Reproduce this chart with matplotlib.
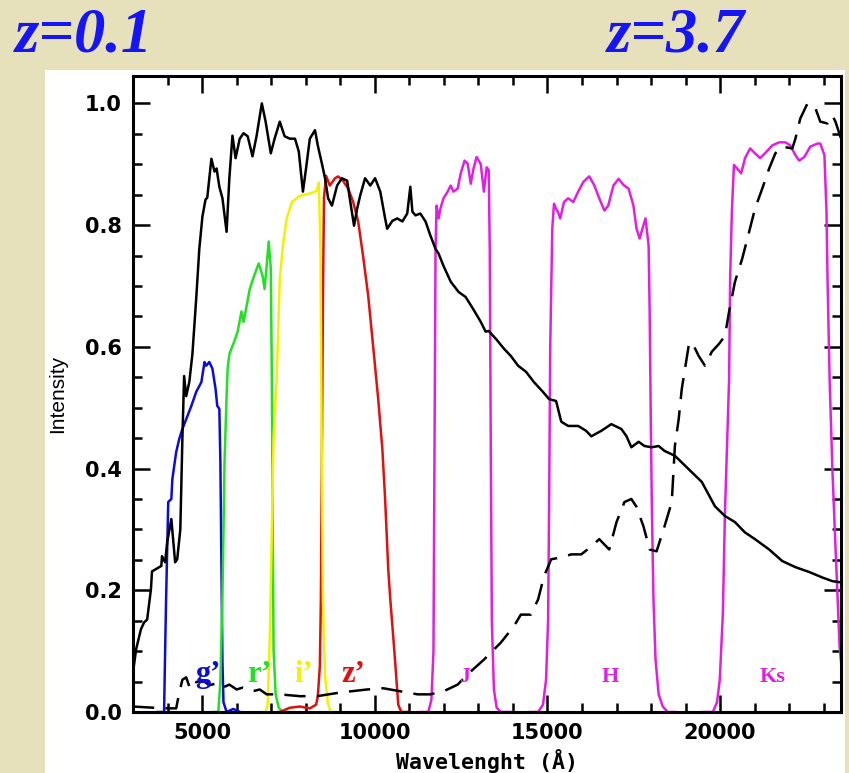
import matplotlib
matplotlib.use('Agg')
import matplotlib.pyplot as plt
from matplotlib.patches import Rectangle

# galaxy template spectrum at z=0.1 (solid)
wl_01 = [3000, 3090, 3230, 3320, 3410, 3520, 3550, 3670, 3820, 3840,
         3930, 3990, 4110, 4220, 4280, 4370, 4430, 4460, 4480, 4540,
         4630, 4720, 4830, 4920, 5010, 5100, 5150, 5270, 5360, 5420,
         5500, 5590, 5710, 5790, 5880, 5970, 6090, 6200, 6320, 6460,
         6580, 6730, 6840, 6990, 7100, 7250, 7390, 7540, 7690, 7800,
         7920, 8010, 8120, 8270, 8350, 8470, 8560, 8650, 8760, 8910,
         9050, 9200, 9290, 9400, 9490, 9580, 9720, 9870, 10010, 10160,
         10300, 10360, 10510, 10650, 10800, 10940, 11030, 11090, 11180, 11320,
         11470, 11610, 11760, 11850, 11990, 12200, 12430, 12630, 12840, 13070,
         13210, 13300, 13510, 13740, 13940, 14150, 14380, 14610, 14870, 15050,
         15250, 15400, 15600, 15890, 16120, 16270, 16560, 16850, 17140, 17290,
         17430, 17640, 17810, 18020, 18220, 18390, 18690, 19090, 19470, 19850,
         20140, 20430, 20720, 21010, 21420, 21800, 22180, 22580, 22960, 23250,
         23500]
int_01 = [0.065, 0.103, 0.136, 0.147, 0.152, 0.202, 0.231, 0.235, 0.240, 0.256,
          0.246, 0.279, 0.317, 0.246, 0.251, 0.300, 0.449, 0.514, 0.552, 0.519,
          0.542, 0.588, 0.679, 0.761, 0.814, 0.842, 0.845, 0.909, 0.888, 0.893,
          0.863, 0.844, 0.789, 0.877, 0.947, 0.910, 0.942, 0.951, 0.946, 0.913,
          0.947, 1.000, 0.970, 0.918, 0.942, 0.970, 0.946, 0.942, 0.942, 0.921,
          0.855, 0.893, 0.942, 0.956, 0.931, 0.901, 0.877, 0.844, 0.832, 0.865,
          0.877, 0.873, 0.839, 0.799, 0.827, 0.849, 0.877, 0.865, 0.877, 0.855,
          0.811, 0.794, 0.807, 0.811, 0.806, 0.819, 0.863, 0.822, 0.816, 0.819,
          0.806, 0.783, 0.761, 0.753, 0.733, 0.707, 0.690, 0.682, 0.663, 0.641,
          0.625, 0.626, 0.613, 0.597, 0.585, 0.569, 0.559, 0.542, 0.526, 0.514,
          0.511, 0.477, 0.470, 0.470, 0.462, 0.453, 0.462, 0.473, 0.465, 0.453,
          0.435, 0.444, 0.437, 0.435, 0.437, 0.429, 0.421, 0.399, 0.378, 0.338,
          0.322, 0.312, 0.295, 0.284, 0.267, 0.248, 0.238, 0.230, 0.221, 0.215,
          0.213]

# same template at z=3.7 (dashed)
wl_37 = [3000, 3900, 4250, 4340, 4430, 4540, 4630, 4720, 4830, 5010,
         5210, 5420, 5590, 5790, 6000, 6170, 6460, 6670, 6870, 7250,
         7830, 8330, 9000, 9780, 10250, 10740, 11240, 11610, 11990, 12400,
         12690, 13160, 13650, 14030, 14230, 14520, 14730, 14900, 15110, 15400,
         15690, 15980, 16270, 16500, 16790, 17000, 17230, 17430, 17580, 17780,
         17960, 18160, 18390, 18600, 18690, 18800, 18890, 19090, 19180, 19380,
         19560, 19760, 19970, 20140, 20260, 20430, 20640, 20840, 21010, 21220,
         21420, 21600, 21800, 22090, 22180, 22320, 22530, 22760, 22900, 23110,
         23250, 23340, 23500]
int_37 = [0.009, 0.006, 0.006, 0.032, 0.053, 0.057, 0.042, 0.053, 0.049, 0.052,
          0.044, 0.047, 0.040, 0.045, 0.037, 0.040, 0.034, 0.037, 0.029, 0.029,
          0.026, 0.026, 0.032, 0.037, 0.039, 0.034, 0.029, 0.029, 0.034, 0.045,
          0.062, 0.086, 0.114, 0.141, 0.160, 0.160, 0.185, 0.223, 0.251, 0.254,
          0.259, 0.259, 0.272, 0.284, 0.267, 0.312, 0.345, 0.350, 0.337, 0.305,
          0.267, 0.264, 0.305, 0.345, 0.437, 0.481, 0.531, 0.602, 0.608, 0.585,
          0.569, 0.592, 0.605, 0.618, 0.658, 0.707, 0.745, 0.789, 0.827, 0.860,
          0.893, 0.918, 0.929, 0.926, 0.942, 0.975, 1.000, 0.992, 0.970, 0.967,
          0.980, 0.970, 0.942]

# filter transmission curves
wl_g = [3700, 3900, 3930, 3960, 4020, 4110, 4140, 4250, 4340, 4430,
        4540, 4690, 4830, 4980, 5070, 5120, 5210, 5300, 5390, 5440,
        5500, 5530, 5560, 5590, 5620, 5710, 5900, 6100]
int_g = [0, 0, 0.10, 0.19, 0.345, 0.35, 0.383, 0.427, 0.449, 0.465,
         0.481, 0.503, 0.526, 0.542, 0.575, 0.569, 0.575, 0.564, 0.531, 0.503,
         0.498, 0.411, 0.246, 0.081, 0.016, 0, 0.005, 0]

wl_r = [5300, 5470, 5530, 5590, 5650, 5710, 5740, 5790, 5850, 5940,
        6030, 6140, 6200, 6290, 6380, 6460, 6580, 6640, 6750, 6810,
        6870, 6930, 6990, 7020, 7050, 7070, 7130, 7220, 7340, 7500]
int_r = [0, 0, 0.05, 0.19, 0.41, 0.52, 0.564, 0.588, 0.597, 0.61,
         0.625, 0.658, 0.641, 0.667, 0.695, 0.709, 0.728, 0.737, 0.717, 0.695,
         0.733, 0.773, 0.728, 0.547, 0.268, 0.103, 0.029, 0.007, 0, 0]

wl_i = [6700, 6840, 6900, 6960, 7020, 7070, 7160, 7250, 7340, 7450,
        7600, 7830, 8060, 8320, 8380, 8410, 8430, 8450, 8480, 8500,
        8560, 8640, 8720, 8900]
int_i = [0, 0, 0.012, 0.12, 0.30, 0.45, 0.547, 0.712, 0.766, 0.811,
         0.838, 0.848, 0.851, 0.856, 0.87, 0.80, 0.75, 0.55, 0.30, 0.18,
         0.06, 0.015, 0, 0]

wl_z = [7200, 7250, 7540, 7830, 8120, 8300, 8350, 8410, 8440, 8470,
        8500, 8530, 8590, 8700, 8850, 8940, 9080, 9230, 9370, 9520,
        9660, 9810, 9960, 10100, 10220, 10300, 10390, 10450, 10540, 10600,
        10680, 10770, 11000]
int_z = [0, 0, 0.007, 0.009, 0.006, 0.012, 0.025, 0.075, 0.185, 0.43,
         0.68, 0.845, 0.881, 0.865, 0.877, 0.88, 0.873, 0.86, 0.839, 0.806,
         0.75, 0.684, 0.597, 0.514, 0.432, 0.35, 0.235, 0.185, 0.12, 0.075,
         0.012, 0, 0]

wl_J = [11300, 11550, 11640, 11700, 11730, 11760, 11790, 11850, 11900, 11990,
        12110, 12200, 12280, 12400, 12490, 12600, 12690, 12780, 12860, 12950,
        13070, 13160, 13240, 13300, 13330, 13360, 13390, 13450, 13530, 13650,
        14000]
int_J = [0, 0, 0.02, 0.10, 0.43, 0.76, 0.832, 0.811, 0.827, 0.844,
         0.855, 0.865, 0.855, 0.86, 0.885, 0.906, 0.901, 0.868, 0.893, 0.912,
         0.90, 0.855, 0.895, 0.89, 0.76, 0.43, 0.15, 0.037, 0.007, 0,
         0]

wl_H = [14500, 14730, 14870, 14960, 15020, 15050, 15080, 15140, 15190, 15250,
        15310, 15370, 15480, 15600, 15750, 15890, 16040, 16210, 16360, 16500,
        16650, 16760, 16910, 17060, 17200, 17350, 17490, 17580, 17670, 17780,
        17840, 17930, 17960, 17990, 18020, 18070, 18130, 18220, 18340, 18480,
        18700]
int_H = [0, 0, 0.012, 0.053, 0.152, 0.35, 0.597, 0.794, 0.835, 0.827,
         0.821, 0.811, 0.838, 0.844, 0.838, 0.855, 0.871, 0.88, 0.865, 0.844,
         0.824, 0.832, 0.865, 0.876, 0.866, 0.86, 0.832, 0.794, 0.778, 0.80,
         0.811, 0.766, 0.657, 0.493, 0.35, 0.185, 0.086, 0.029, 0.009, 0,
         0]

wl_K = [19500, 19790, 19910, 19990, 20080, 20140, 20200, 20260, 20290, 20340,
        20400, 20490, 20610, 20720, 20870, 21010, 21160, 21300, 21510, 21710,
        21890, 22030, 22180, 22290, 22440, 22610, 22820, 22900, 23020, 23080,
        23110, 23170, 23250, 23340, 23460, 23550]
int_K = [0, 0, 0.016, 0.053, 0.163, 0.328, 0.437, 0.547, 0.712, 0.822,
         0.899, 0.893, 0.885, 0.91, 0.926, 0.918, 0.91, 0.918, 0.931, 0.936,
         0.936, 0.931, 0.915, 0.906, 0.912, 0.929, 0.934, 0.934, 0.915, 0.822,
         0.712, 0.547, 0.40, 0.272, 0.107, 0.053]

# filter names and label positions
filt_names = ['g\u2019', 'r\u2019', 'i\u2019', 'z\u2019', 'J', 'H', 'Ks']
filt_pos = [5180, 6650, 7950, 9390, 12600, 16810, 21510]

BLUE = '#0c0cd8'
GREEN = '#22e022'
YELLOW = '#f2f200'
RED = '#e01010'
MAGENTA = '#e020e0'

fig = plt.figure(figsize=(8.49, 7.73), dpi=100, facecolor='#e7e1bb')

# white panel behind the plot
fig.add_artist(Rectangle((45 / 849, 0), 800 / 849, 703 / 773,
                         transform=fig.transFigure, facecolor='white',
                         edgecolor='none', zorder=0))

fig.text(15 / 849, 1 - 51 / 773, 'z=0.1', color='#1515f5', fontsize=45,
         family='Liberation Serif', weight='bold', style='italic')
fig.text(607 / 849, 1 - 51 / 773, 'z=3.7', color='#1515f5', fontsize=45,
         family='Liberation Serif', weight='bold', style='italic')

ax = fig.add_axes([133 / 849, 61 / 773, 708 / 849, 636 / 773])

lw = 1.8
ax.plot(wl_g, int_g, color=BLUE, lw=lw)
ax.plot(wl_r, int_r, color=GREEN, lw=lw)
ax.plot(wl_z, int_z, color=RED, lw=lw)
ax.plot(wl_i, int_i, color=YELLOW, lw=lw)
ax.plot(wl_J, int_J, color=MAGENTA, lw=lw)
ax.plot(wl_H, int_H, color=MAGENTA, lw=lw)
ax.plot(wl_K, int_K, color=MAGENTA, lw=lw)
ax.plot(wl_01, int_01, color='black', lw=lw)
ax.plot(wl_37, int_37, color='black', lw=lw, dashes=(8.5, 4.5))

fcols = [BLUE, GREEN, YELLOW, RED, MAGENTA, MAGENTA, MAGENTA]
for i in range(len(filt_names)):
    big = i < 4
    ax.text(filt_pos[i], 0.05, filt_names[i], color=fcols[i], ha='center',
            va='baseline', family='Liberation Serif', weight='bold',
            fontsize=22 if big else 16)

ax.set_xlim(3000, 23500)
ax.set_ylim(0, 1.045)
ax.set_xticks([5000, 10000, 15000, 20000])
ax.set_xticks(range(3000, 23501, 1000), minor=True)
ax.set_yticks([0, 0.2, 0.4, 0.6, 0.8, 1.0])
ax.set_yticklabels(['0.0', '0.2', '0.4', '0.6', '0.8', '1.0'])
ax.set_yticks([i * 0.05 for i in range(21)], minor=True)
ax.tick_params(which='both', direction='in', top=True, right=True, width=1.8)
ax.tick_params(which='major', length=12, labelsize=15, pad=8)
ax.tick_params(which='minor', length=6.5)
for lab in ax.get_xticklabels() + ax.get_yticklabels():
    lab.set_fontweight('bold')
for s in ax.spines.values():
    s.set_linewidth(2.2)

ax.set_xlabel('Wavelenght (\u00c5)', family='DejaVu Sans Mono', weight='bold',
              fontsize=15.5, labelpad=4)
ax.set_ylabel('Intensity', family='Liberation Sans', fontsize=15, labelpad=13)

plt.savefig('out.png', dpi=100, facecolor=fig.get_facecolor())
